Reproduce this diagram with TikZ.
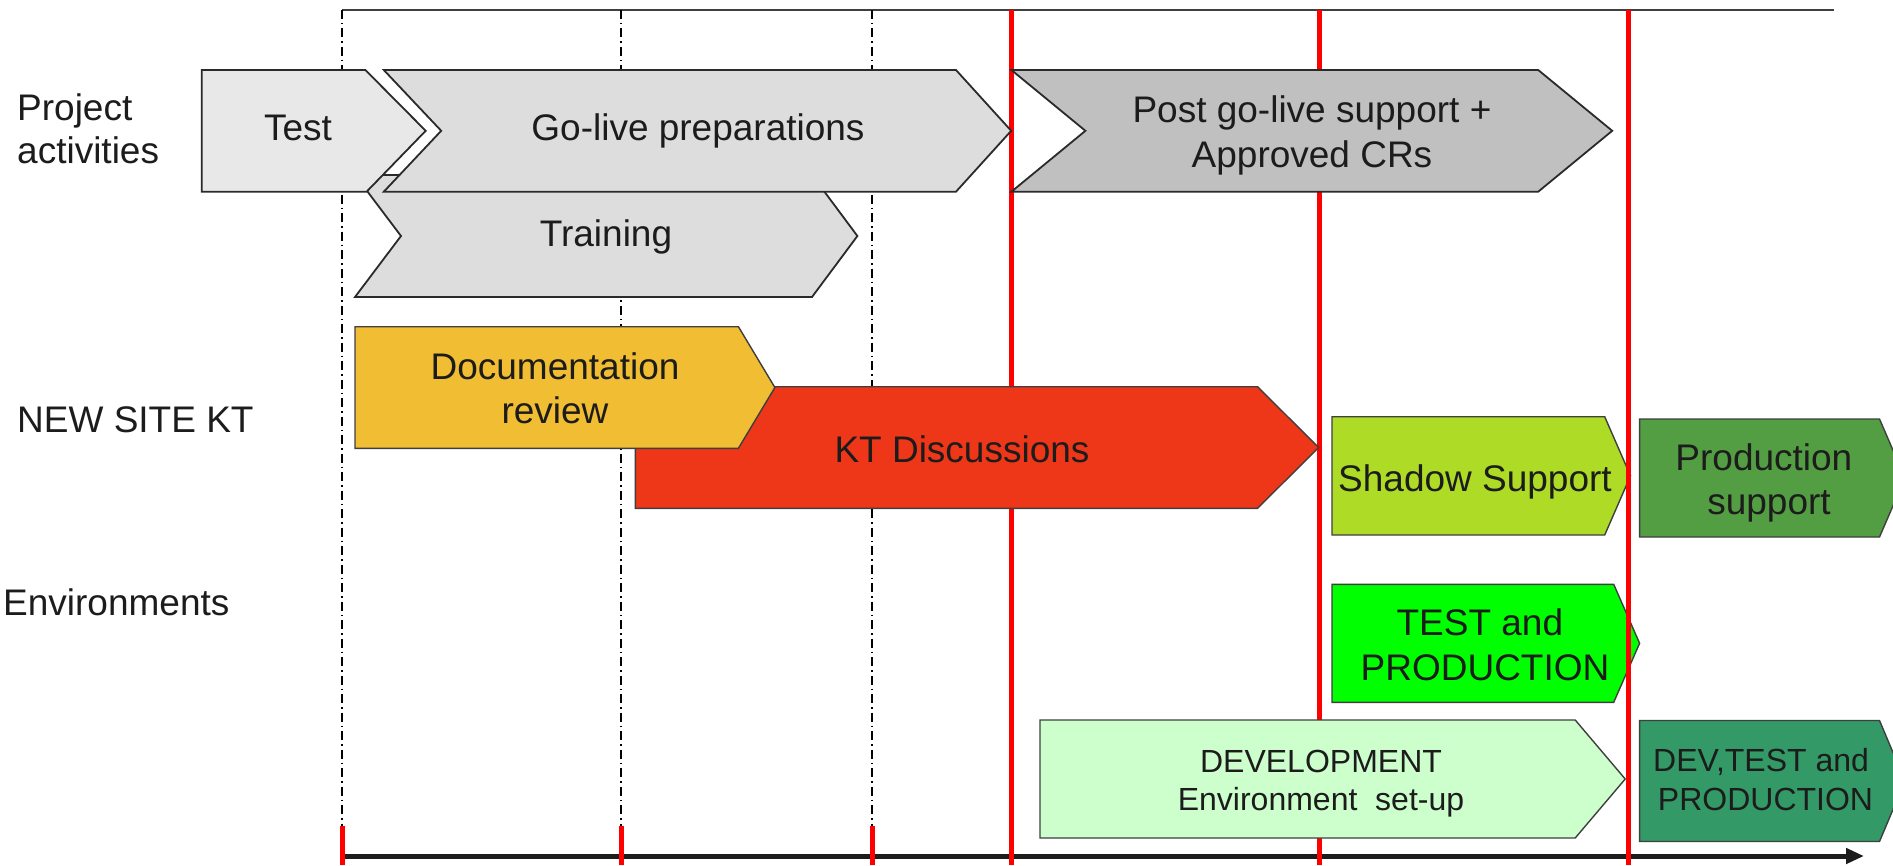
\documentclass[tikz,border=0pt]{standalone}
\usepackage{fontspec}
\setmainfont{Liberation Sans}
\usetikzlibrary{arrows.meta}

\definecolor{inkc}{HTML}{1C1C1C}
\definecolor{edgec}{HTML}{2A2A2A}
\definecolor{testc}{HTML}{E8E8E8}
\definecolor{prepc}{HTML}{DDDDDD}
\definecolor{postc}{HTML}{C0C0C0}
\definecolor{docc}{HTML}{F1BD33}
\definecolor{ktc}{HTML}{EE3618}
\definecolor{shadowc}{HTML}{AEDB25}
\definecolor{prodc}{HTML}{539E43}
\definecolor{tpc}{HTML}{00FF00}
\definecolor{devc}{HTML}{CCFFCC}
\definecolor{dtpc}{HTML}{339966}
\definecolor{redc}{HTML}{FF0000}

\begin{document}
\begin{tikzpicture}[x=1pt,y=-1pt,
  phase/.style={draw=edgec, line width=1.8pt, line join=miter},
  track/.style={draw=edgec!90, line width=1.4pt, line join=miter},
  % anchor=base sits on the baseline of the last text line
  lbl/.style={inner sep=0pt, anchor=base, align=center, text=inkc},
  big/.style={font=\fontsize{37}{#1}\selectfont},
  big/.default=45,
  sml/.style={font=\fontsize{32}{#1}\selectfont},
  sml/.default=38,
  rowlbl/.style={inner sep=0pt, anchor=base west, align=left, text=inkc, font=\fontsize{37}{42.5}\selectfont},
  guide/.style={draw=black, line width=1.3pt, dash pattern=on 9pt off 4pt on 1.5pt off 4pt},
  milestone/.style={draw=redc, line width=5pt},
]
\useasboundingbox (0,0) rectangle (1893,865);
\clip (0,0) rectangle (1893,865);

% time grid: top rule, dash-dot guides and milestone lines
\coordinate (topL) at (342,9.5);
\coordinate (topR) at (1834,9.5);
\draw[draw=black!75, line width=2pt] (topL) -- (topR);

\foreach \gx [count=\i] in {342,621,872}{
  \coordinate (gt\i) at (\gx,9.5);
  \coordinate (gb\i) at (\gx,826);
  \coordinate (ge\i) at (\gx,865);
  \draw[guide] (gt\i) -- (gb\i);
}

% time axis
\coordinate (axL) at (342,856);
\coordinate (axR) at (1864,856);
\draw[draw=inkc, line width=5pt, -{Triangle[length=18pt,width=15pt]}] (axL) -- (axR);

\foreach \i in {1,2,3}{ \draw[milestone] (gb\i) -- (ge\i); }

\foreach \mx [count=\i] in {1011,1319}{
  \coordinate (mt\i) at (\mx,9.5);
  \coordinate (mb\i) at (\mx,865);
  \draw[milestone] (mt\i) -- (mb\i);
}
\coordinate (mt3) at (1628,9.5);
\coordinate (mb3) at (1628,865);

% project activities
\path[phase, fill=prepc] (355,175) -- (812,175) -- (857.4,236) -- (812,297) -- (355,297) -- (401,236) -- cycle;
\path[phase, fill=testc] (201.8,70) -- (365.4,70) -- (425.7,130.8) -- (366.6,191.7) -- (201.8,191.7) -- cycle;
\path[phase, fill=prepc] (383.8,70) -- (956,70) -- (1011.2,130.8) -- (956,191.7) -- (383.8,191.7) -- (441.2,130.8) -- cycle;
\path[phase, fill=postc] (1011.4,70) -- (1538.2,70) -- (1612.2,130.8) -- (1538.2,191.7) -- (1011.4,191.7) -- (1085.4,130.8) -- cycle;

\node[lbl, big] (test) at (298,140) {Test};
\node[lbl, big] (golive) at (698,140) {Go-live preparations};
\node[lbl, big] (training) at (606,246.5) {Training};
\node[lbl, big=45] (post) at (1312,167) {Post go-live support +\\Approved CRs};

% new site knowledge transfer
\path[track, fill=ktc] (635.3,386.7) -- (1257.6,386.7) -- (1318.6,447.5) -- (1257.6,508.3) -- (635.3,508.3) -- cycle;
\path[track, fill=docc] (355,326.7) -- (738.4,326.7) -- (774.9,387.5) -- (738.4,448.3) -- (355,448.3) -- cycle;
\path[track, fill=shadowc] (1332,416.7) -- (1604.7,416.7) -- (1630.5,475.8) -- (1604.7,535) -- (1332,535) -- cycle;
\path[track, fill=prodc] (1639.6,419) -- (1879.5,419) -- (1905,478) -- (1879.5,537) -- (1639.6,537) -- cycle;

\node[lbl, big=44] (doc) at (555,423.5) {Documentation\\review};
\node[lbl, big] (kt) at (962,462.5) {KT Discussions};
\node[lbl, big] (shadow) at (1475,491) {Shadow Support};
\node[lbl, big=43.5] (prodsup) at (1769,514) {Production\kern.278em\\support};

% environments
\path[track, fill=tpc] (1332,584.3) -- (1613.7,584.3) -- (1639.6,643.3) -- (1613.7,702.3) -- (1332,702.3) -- cycle;
\path[track, fill=devc] (1040,720) -- (1575.2,720) -- (1625.2,779) -- (1575.2,838) -- (1040,838) -- cycle;
\path[track, fill=dtpc] (1639.6,720.5) -- (1879.5,720.5) -- (1905,781) -- (1879.5,841.5) -- (1639.6,841.5) -- cycle;

\node[lbl, big=45] (testprod) at (1485,680) {TEST and\kern.278em\\PRODUCTION};
\node[lbl, sml=38] (devel) at (1321,810) {DEVELOPMENT\\Environment\ \ set-up};
\node[lbl, sml=38.3] (devtest) at (1765.5,810) {DEV,TEST and\kern.278em\\PRODUCTION};

% last milestone stays in front of the boxes it crosses
\draw[milestone] (mt3) -- (mb3);

% row labels
\node[rowlbl] (rowproj) at (17,163.3) {Project\\activities};
\node[rowlbl] (rowkt) at (17,432.7) {NEW SITE KT};
\node[rowlbl] (rowenv) at (3,615) {Environments};
\end{tikzpicture}
\end{document}
